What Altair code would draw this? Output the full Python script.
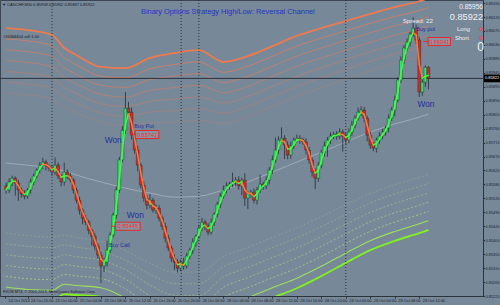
import json
import altair as alt
import pandas as pd

# ---------------- data ----------------
first_open = 0.85575
closes = [
    0.85562, 0.85588, 0.85600, 0.85584, 0.85562, 0.85549, 0.85542, 0.85562, 0.85588, 0.85607,
    0.85626, 0.85642, 0.85652, 0.85639, 0.85633, 0.85620, 0.85642, 0.85607, 0.85588, 0.85620,
    0.85607, 0.85594, 0.85562, 0.85529, 0.85497, 0.85471, 0.85458, 0.85432, 0.85413, 0.85381,
    0.85352, 0.85317, 0.85329, 0.85368, 0.85417, 0.85481, 0.85562, 0.85659, 0.85755, 0.85826,
    0.85813, 0.85739, 0.85691, 0.85642, 0.85578, 0.85536, 0.85513, 0.85529, 0.85497, 0.85503,
    0.85471, 0.85445, 0.85407, 0.85375, 0.85342, 0.85329, 0.85310, 0.85329, 0.85317, 0.85349,
    0.85368, 0.85394, 0.85413, 0.85439, 0.85458, 0.85445, 0.85426, 0.85458, 0.85484, 0.85516,
    0.85542, 0.85562, 0.85575, 0.85581, 0.85588, 0.85594, 0.85575, 0.85594, 0.85536, 0.85549,
    0.85555, 0.85529, 0.85562, 0.85581, 0.85575, 0.85594, 0.85626, 0.85659, 0.85691, 0.85723,
    0.85729, 0.85707, 0.85675, 0.85704, 0.85723, 0.85729, 0.85723, 0.85717, 0.85691, 0.85659,
    0.85620, 0.85600, 0.85642, 0.85684, 0.85704, 0.85723, 0.85736, 0.85742, 0.85736, 0.85749,
    0.85736, 0.85723, 0.85749, 0.85771, 0.85794, 0.85813, 0.85820, 0.85794, 0.85739, 0.85707,
    0.85697, 0.85723, 0.85736, 0.85749, 0.85762, 0.85794, 0.85820, 0.85852, 0.85917, 0.85981,
    0.86020, 0.86039, 0.86065, 0.86084, 0.86046, 0.85878, 0.85910, 0.85958, 0.85922,
]
upper_wick_pts = [
    10, 12, 8, 6, 10, 8, 12, 6, 10, 8,
    6, 10, 14, 8, 6, 10, 25, 8, 6, 30,
    8, 10, 6, 8, 12, 6, 10, 8, 6, 10,
    8, 12, 15, 30, 10, 8, 12, 10, 14, 52,
    20, 15, 10, 14, 8, 12, 10, 20, 8, 14,
    10, 8, 12, 10, 8, 12, 10, 8, 14, 10,
    8, 12, 6, 10, 14, 8, 10, 12, 6, 8,
    10, 14, 12, 8, 30, 10, 12, 8, 22, 10,
    8, 12, 10, 30, 8, 12, 10, 14, 40, 12,
    35, 10, 12, 14, 8, 12, 10, 8, 12, 10,
    8, 12, 10, 8, 14, 10, 12, 8, 10, 12,
    8, 10, 12, 14, 10, 15, 12, 10, 8, 12,
    10, 8, 12, 10, 8, 12, 10, 14, 10, 12,
    10, 12, 8, 35, 12, 10, 12, 6, 4,
]
lower_wick_pts = [
    12, 10, 14, 40, 35, 12, 10, 8, 12, 10,
    8, 10, 12, 14, 10, 12, 8, 10, 14, 12,
    10, 8, 12, 10, 14, 20, 10, 12, 30, 14,
    12, 55, 20, 14, 10, 8, 12, 10, 8, 12,
    10, 14, 12, 20, 10, 12, 14, 10, 8, 12,
    10, 12, 14, 10, 12, 25, 14, 10, 12, 8,
    10, 12, 14, 8, 10, 12, 10, 8, 12, 10,
    12, 8, 10, 12, 10, 14, 12, 30, 25, 35,
    12, 10, 14, 10, 12, 10, 14, 12, 10, 12,
    10, 45, 14, 12, 10, 8, 12, 10, 14, 12,
    15, 35, 12, 10, 14, 35, 12, 10, 12, 10,
    50, 14, 10, 12, 10, 8, 12, 14, 20, 12,
    10, 14, 12, 10, 12, 14, 10, 20, 8, 10,
    12, 10, 14, 10, 12, 16, 12, 15, 35,
]

# reversal channel (read at sample bars)
band_bars = [1, 8, 16, 20, 24, 32, 40, 48, 56, 64, 72, 80, 88, 96, 104, 112, 120, 128, 136, 139]
channel_mid = [0.85649, 0.85642, 0.85633, 0.85623, 0.85610, 0.85588, 0.85568, 0.85552, 0.85539, 0.85542,
               0.85562, 0.85588, 0.85620, 0.85652, 0.85684, 0.85717, 0.85749, 0.85775, 0.85797, 0.85807]
channel_top = [0.86084, 0.86078, 0.86062, 0.86020, 0.85997, 0.85959, 0.85955, 0.85988, 0.86004, 0.86013,
               0.85975, 0.85994, 0.86026, 0.86059, 0.86084, 0.86107, 0.86130, 0.86152, 0.86171, 0.86181]
band_levels = [0.52, 0.60, 0.68, 0.76, 0.84, 0.92, 1.0]

x_labels = ["24 Oct 2013", "24 Oct 20:00", "25 Oct 00:00", "25 Oct 04:00", "25 Oct 08:00",
            "25 Oct 12:00", "25 Oct 16:00", "25 Oct 20:00", "28 Oct 00:00", "28 Oct 04:00",
            "28 Oct 08:00", "28 Oct 12:00", "28 Oct 16:00", "28 Oct 20:00", "29 Oct 00:00",
            "29 Oct 04:00", "29 Oct 08:00", "29 Oct 12:00"]
x_tick_bars = [0.64, 8, 16, 24, 32, 40, 48, 56, 64, 72, 80, 88, 96, 104, 112, 120, 128, 136]
y_ticks = [0.86165, 0.86120, 0.86075, 0.86030, 0.85985, 0.85940, 0.85895, 0.85850, 0.85805, 0.85760,
           0.85715, 0.85670, 0.85625, 0.85580, 0.85535, 0.85490, 0.85445, 0.85400, 0.85355, 0.85310,
           0.85265, 0.85220]
separators = [16, 58.2, 64, 112]
bid_price = 0.85922

trade_labels = ["Won", "Won", "Won"]
won_bars = [36.0, 43.2, 138.2]
won_prices = [0.85723, 0.85481, 0.85839]
signal_texts = ["Buy Put", "Buy Call", "Buy put"]
signal_bars = [42.9, 34.6, 135.0]
signal_prices = [0.85768, 0.85384, 0.86081]
box_texts = ["0.85741", "0.85445", "0.86041"]
box_prices = [0.85741, 0.85445, 0.86041]
box_left = [43.2, 36.8, 138.9]
box_right = [50.9, 44.8, 146.2]

# ---------------- tables ----------------
n = len(closes)
idx = list(range(1, n + 1))
opens = [first_open] + closes[:-1]
highs = [max(o, c) + u / 1e5 for o, c, u in zip(opens, closes, upper_wick_pts)]
lows = [min(o, c) - l / 1e5 for o, c, l in zip(opens, closes, lower_wick_pts)]
candles = pd.DataFrame(dict(i=idx, open=opens, close=closes, high=highs, low=lows))

wts = [3, 2, 1]
ma = []
for k in range(n):
    num = den = 0.0
    for j, w in enumerate(wts):
        if k - j >= 0:
            num += w * closes[k - j]
            den += w
    ma.append(num / den)
seg = pd.DataFrame(dict(i0=idx[:-1], i1=idx[1:], m0=ma[:-1], m1=ma[1:]))
seg["col"] = ["#3dff3d" if b >= a else "#ff7a3a" for a, b in zip(ma[:-1], ma[1:])]

rows = []
for f in band_levels:
    for b, m, t in zip(band_bars, channel_mid, channel_top):
        d = t - m
        rows.append(dict(i=b, price=m + f * d, level=f, side="up"))
        rows.append(dict(i=b, price=m - f * d, level=f, side="dn"))
bands = pd.DataFrame(rows)
mid_df = pd.DataFrame(dict(i=band_bars, price=channel_mid))

# ---------------- scales / axes ----------------
xs = alt.Scale(domain=[0.64, 155.2], nice=False, zero=False)
ys = alt.Scale(domain=[0.85220, 0.86175], nice=False, zero=False)
AX = dict(title=None, grid=False, labelFontSize=3.9, labelColor="#1c232b", tickColor="#2b333b",
          domainColor="#2b333b", labelFont="Liberation Sans", labelPadding=0.5, labelOverlap=False,
          labelFlush=False)
x_axis = alt.Axis(values=x_tick_bars, labelExpr=json.dumps(x_labels) + "[round(datum.value/8)]",
                  labelAlign="left", labelOffset=3, tickSize=2, **AX)
y_axis = alt.Axis(values=y_ticks, format=".5f", orient="right", tickSize=1.5, **AX)


def X(f):
    return alt.X(f, type="quantitative", scale=xs, axis=x_axis)


def Y(f):
    return alt.Y(f, type="quantitative", scale=ys, axis=y_axis)


layers = []

# channel centre
layers.append(alt.Chart(mid_df).mark_line(color="#cdd5dd", opacity=0.45, strokeWidth=1,
                                          interpolate="monotone", clip=True)
              .encode(x=X("i"), y=Y("price")))
bb = alt.Chart(bands)
# upper channel lines
layers.append(bb.transform_filter("datum.side=='up' && datum.level<1")
              .mark_line(color="#dc7c5e", strokeWidth=1, interpolate="monotone", clip=True)
              .encode(x=X("i"), y=Y("price"), detail="level:N",
                      opacity=alt.Opacity("level:Q", scale=alt.Scale(domain=[0.52, 0.92], range=[0.25, 0.75]),
                                          legend=None)))
layers.append(bb.transform_filter("datum.side=='up' && datum.level==1")
              .mark_line(color="#ee7a4e", strokeWidth=1.8, interpolate="monotone", clip=True)
              .encode(x=X("i"), y=Y("price")))
# lower channel lines
layers.append(bb.transform_filter("datum.side=='dn' && datum.level<0.9")
              .mark_line(color="#b8e27c", strokeWidth=1, strokeDash=[2, 2], interpolate="monotone", clip=True)
              .encode(x=X("i"), y=Y("price"), detail="level:N",
                      opacity=alt.Opacity("level:Q", scale=alt.Scale(domain=[0.52, 0.84], range=[0.45, 0.85]),
                                          legend=None)))
layers.append(bb.transform_filter("datum.side=='dn' && datum.level>0.9 && datum.level<1")
              .mark_line(color="#9ee05a", strokeWidth=1.1, interpolate="monotone", clip=True)
              .encode(x=X("i"), y=Y("price")))
layers.append(bb.transform_filter("datum.side=='dn' && datum.level==1")
              .mark_line(color="#80f020", strokeWidth=1.9, interpolate="monotone", clip=True)
              .encode(x=X("i"), y=Y("price")))

# period separators and bid line
layers.append(alt.Chart(pd.DataFrame(dict(s=separators))).mark_rule(color="#27303a", strokeDash=[1, 2],
                                                                     strokeWidth=1)
              .encode(x=X("s")))
layers.append(alt.Chart(pd.DataFrame(dict(p=[bid_price]))).mark_rule(color="#2b333b", strokeWidth=1)
              .encode(y=Y("p")))

# candles
cc = alt.Chart(candles)
layers.append(cc.mark_rule(color="#262d34", strokeWidth=0.8).encode(x=X("i"), y=Y("low"), y2="high"))
layers.append(cc.mark_bar(size=2.8, stroke="#1b2a22", strokeWidth=0.4)
              .encode(x=X("i"), y=Y("open"), y2="close",
                      color=alt.condition("datum.close >= datum.open", alt.value("#36e070"),
                                          alt.value("#d02a2a"))))
# coloured moving average
layers.append(alt.Chart(seg).mark_rule(strokeWidth=1.5, strokeCap="round")
              .encode(x=X("i0"), x2="i1", y=Y("m0"), y2="m1", color=alt.Color("col:N", scale=None)))

# trade boxes
boxes = pd.DataFrame(dict(t=box_texts, p=box_prices, l=box_left, r=box_right))
boxes["ph"] = boxes.p + 0.00013
boxes["pl"] = boxes.p - 0.00013
boxes["c"] = (boxes.l + boxes.r) / 2
boxes["lt"] = boxes.l - 1.6
layers.append(alt.Chart(boxes).mark_rect(fill="#8793a3", stroke="#e42b2b", strokeWidth=1)
              .encode(x=X("l"), x2="r", y=Y("ph"), y2="pl"))
layers.append(alt.Chart(boxes).mark_rule(color="#e42b2b", strokeWidth=1)
              .encode(x=X("lt"), x2="l", y=Y("p")))
layers.append(alt.Chart(boxes).mark_text(color="#ff2e2e", fontSize=5.6, font="Liberation Sans")
              .encode(x=X("c"), y=Y("p"), text="t"))

won = pd.DataFrame(dict(t=trade_labels, i=won_bars, p=won_prices))
layers.append(alt.Chart(won).mark_text(color="#25309c", fontSize=8.4, font="Liberation Sans")
              .encode(x=X("i"), y=Y("p"), text="t"))
sig = pd.DataFrame(dict(t=signal_texts, i=signal_bars, p=signal_prices))
layers.append(alt.Chart(sig).mark_text(color="#25309c", fontSize=5.6, align="left", font="Liberation Sans")
              .encode(x=X("i"), y=Y("p"), text="t"))
spread = pd.DataFrame(dict(t=["Spread: 22"], i=[130.6], p=[0.86107]))
layers.append(alt.Chart(spread).mark_text(color="#e8edf0", fontSize=6.2, align="left", font="Liberation Sans")
              .encode(x=X("i"), y=Y("p"), text="t"))

# bid badge on the price axis
cur = pd.DataFrame(dict(p=[bid_price], ph=[bid_price + 0.000125], pl=[bid_price - 0.000125],
                        t=["%.5f" % bid_price]))
layers.append(alt.Chart(cur).mark_rect(color="#000000")
              .encode(x=alt.value(484), x2=alt.value(500), y=Y("ph"), y2="pl"))
layers.append(alt.Chart(cur).mark_text(color="#ffffff", fontSize=3.9, align="left", font="Liberation Sans")
              .encode(x=alt.value(485), y=Y("p"), text="t"))

# screen labels
screen = pd.DataFrame([
    dict(t="▼ CADCHF,M30  0.85958 0.85962 0.85887 0.85922", px=2, py=4.5, s=4.0, c="#15191e"),
    dict(t="#34384404 sell 1.00", px=3, py=37, s=4.0, c="#15191e"),
    dict(t="FXCM MT4, © 2001-2013, MetaQuotes Software Corp.", px=3, py=292, s=3.8, c="#15191e"),
    dict(t="Binary Options Strategy  High/Low: Reversal Channel", px=141, py=12, s=7.4, c="#2236c4"),
    dict(t="Long", px=457, py=29, s=5.8, c="#eef1f3"),
    dict(t="Short", px=455, py=38, s=5.8, c="#eef1f3"),
])
layers.append(alt.Chart(screen).mark_text(align="left", font="Liberation Sans")
              .encode(x=alt.X("px:Q", scale=None), y=alt.Y("py:Q", scale=None), text="t",
                      size=alt.Size("s:Q", scale=None), color=alt.Color("c:N", scale=None)))
screen_r = pd.DataFrame([
    dict(t="0.85956", px=483, py=7, s=6.6, c="#f2f4f6"),
    dict(t="0.85922", px=483, py=17, s=9.2, c="#f2f4f6"),
    dict(t="0", px=483, py=29, s=6.2, c="#ff3838"),
    dict(t="0", px=483, py=38, s=6.2, c="#ff3838"),
    dict(t="0", px=484, py=47, s=12, c="#f2f4f6"),
])
layers.append(alt.Chart(screen_r).mark_text(align="right", font="Liberation Sans")
              .encode(x=alt.X("px:Q", scale=None), y=alt.Y("py:Q", scale=None), text="t",
                      size=alt.Size("s:Q", scale=None), color=alt.Color("c:N", scale=None)))

chart = (alt.layer(*layers)
         .properties(width=483, height=296, padding={"left": 0, "top": 0, "right": 17, "bottom": 9},
                     autosize="none", background="#778899")
         .configure_view(fill="#778899", stroke="#3b4652", strokeWidth=1))

chart.save("out.html", embed_options={"renderer": "svg", "actions": False})
